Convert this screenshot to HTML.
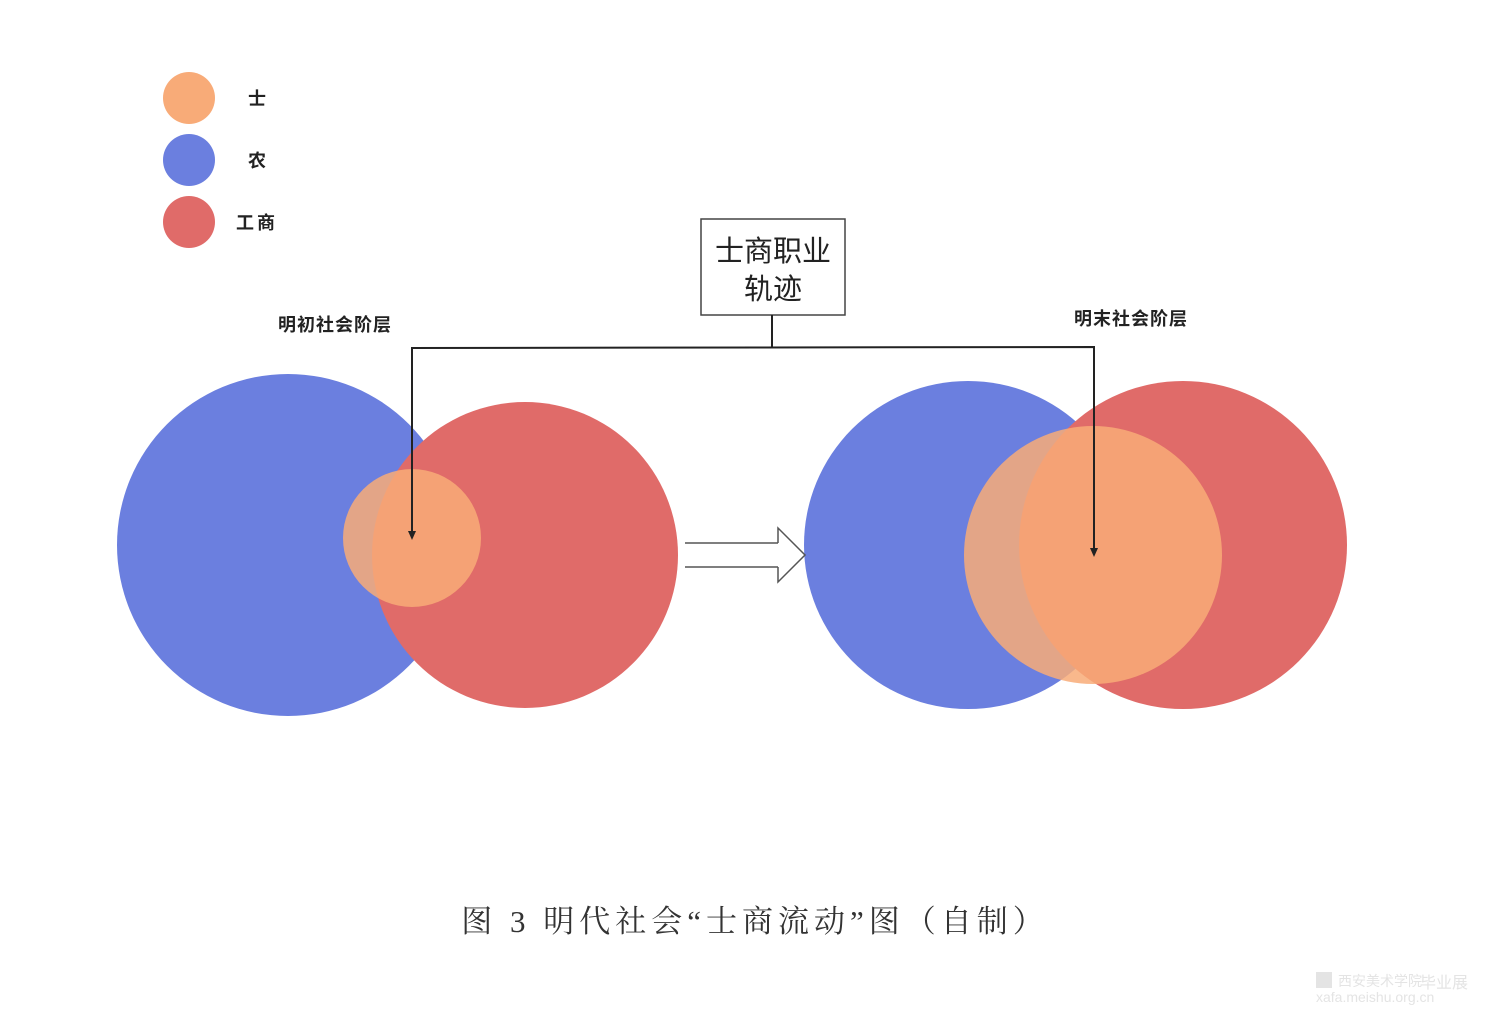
<!DOCTYPE html>
<html><head><meta charset="utf-8"><style>
body{margin:0;background:#fff;}
svg{display:block}
</style></head><body>
<svg width="1500" height="1030" xmlns="http://www.w3.org/2000/svg" font-family="'Liberation Sans','Noto Sans CJK SC',sans-serif">
<rect width="1500" height="1030" fill="#fff"/>
<circle cx="189" cy="98" r="26" fill="#f8ab78"/>
<circle cx="189" cy="160" r="26" fill="#6b7fdf"/>
<circle cx="189" cy="222" r="26" fill="#e06b69"/>
<text x="248" y="105" font-size="18" font-weight="bold" fill="#222">士</text>
<text x="248" y="167" font-size="18" font-weight="bold" fill="#222">农</text>
<text x="236" y="229" font-size="18" font-weight="bold" fill="#222" letter-spacing="3">工商</text>
<text x="278" y="331" font-size="18" font-weight="bold" fill="#222" letter-spacing="1">明初社会阶层</text>
<text x="1074" y="325" font-size="18" font-weight="bold" fill="#222" letter-spacing="1">明末社会阶层</text>

<circle cx="288" cy="545" r="171" fill="#6b7fdf"/>
<circle cx="525" cy="555" r="153" fill="#e06b69"/>
<circle cx="412" cy="538" r="69" fill="#f8ab78" fill-opacity="0.85"/>

<circle cx="968" cy="545" r="164" fill="#6b7fdf"/>
<circle cx="1183" cy="545" r="164" fill="#e06b69"/>
<circle cx="1093" cy="555" r="129" fill="#f8ab78" fill-opacity="0.85"/>

<rect x="701" y="219" width="144" height="96" fill="#fff" stroke="#444" stroke-width="1.5"/>
<text x="773" y="261" font-size="29" text-anchor="middle" fill="#222">士商职业</text>
<text x="773" y="299" font-size="29" text-anchor="middle" fill="#222">轨迹</text>
<polyline points="772,315 772,348" fill="none" stroke="#222" stroke-width="2"/>
<polyline points="412,535 412,348 1094,347 1094,550" fill="none" stroke="#222" stroke-width="2"/>
<polygon points="408,531 416,531 412,540" fill="#222"/>
<polygon points="1090,548 1098,548 1094,557" fill="#222"/>

<g fill="none" stroke="#555" stroke-width="1.5">
<line x1="685" y1="543" x2="778" y2="543"/>
<line x1="685" y1="567" x2="778" y2="567"/>
<polyline points="778,543 778,528 805,555 778,582 778,567"/>
</g>

<text x="755" y="932" font-size="31" text-anchor="middle" fill="#333" letter-spacing="5" font-family="'Liberation Serif','Noto Serif CJK SC',serif">图 3 明代社会“士商流动”图（自制）</text>

<g fill="#e4e4e4">
<rect x="1316" y="972" width="16" height="16"/>
<text x="1338" y="986" font-size="14">西安美术学院</text>
<text x="1420" y="988" font-size="16">毕业展</text>
<text x="1316" y="1002" font-size="14">xafa.meishu.org.cn</text>
</g>
</svg>
</body></html>
